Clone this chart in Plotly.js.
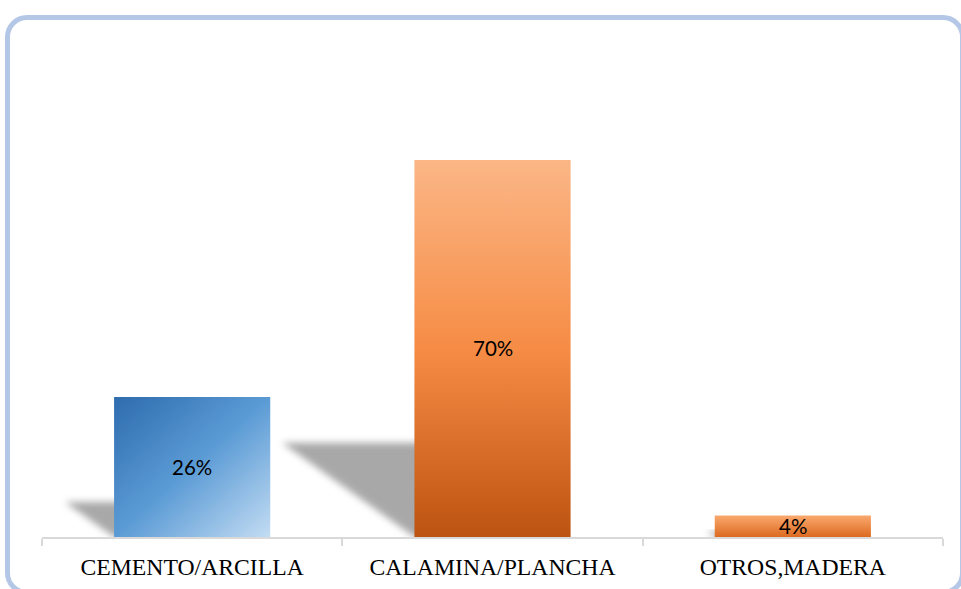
<!DOCTYPE html>
<html>
<head>
<meta charset="utf-8">
<script src="https://cdn.plot.ly/plotly-3.0.1.min.js"></script>
<style>
  html, body { margin: 0; padding: 0; background: #ffffff; overflow: hidden; }
  #wrap { position: relative; width: 961px; height: 589px; overflow: hidden; }
  #chart { position: absolute; left: 0; top: 0; width: 961px; height: 589px; }
  #frame { position: absolute; left: 5px; top: 15px; width: 960px; height: 580px;
           border: 5px solid #b4c7e7; border-radius: 22px; box-sizing: border-box;
           pointer-events: none; }
</style>
</head>
<body>
<div id="wrap">
  <div id="chart"></div>
  <div id="frame"></div>
</div>
<script>
// ---- data ----
const categories = ["CEMENTO/ARCILLA", "CALAMINA/PLANCHA", "OTROS,MADERA"];
const values = [26, 70, 4];
const valueLabels = ["26%", "70%", "4%"];

// ---- style ----
const barWidth = 0.52;
const baseColors = ["#5b9bd5", "#f4894a", "#f08a45"];

// shadows derived from the data values
const shapes = values.map((v, i) => {
  const xl = i - barWidth / 2;
  const w = v * 0.0063;
  const h = v * 0.25;
  return {
    type: "path", xref: "x", yref: "y", layer: "below",
    path: `M ${xl - w} ${h} L ${xl + 0.05} ${h} L ${xl + 0.05} 0 L ${xl} 0 Z`,
    fillcolor: "#9a9a9a", line: { width: 0 }, opacity: 0.85
  };
});

const annotations = values.map((v, i) => ({
  x: categories[i], y: v / 2, xref: "x", yref: "y",
  text: valueLabels[i], showarrow: false,
  font: { family: "Lato, 'Open Sans', sans-serif", size: 20.5, color: "#000000" }
}));

const trace = {
  type: "bar",
  x: categories,
  y: values,
  width: barWidth,
  marker: { color: baseColors, line: { width: 0 } },
  hoverinfo: "skip"
};

const layout = {
  width: 961, height: 589,
  margin: { l: 42, r: 18, t: 106, b: 52 },
  paper_bgcolor: "rgba(0,0,0,0)",
  plot_bgcolor: "rgba(0,0,0,0)",
  showlegend: false,
  xaxis: {
    type: "category",
    showgrid: false,
    showline: true, linecolor: "#d9d9d9", linewidth: 2,
    ticks: "outside", tickson: "boundaries", ticklen: 7, tickcolor: "#d9d9d9", tickwidth: 2,
    ticklabelstandoff: 8,
    tickfont: { family: "'Liberation Serif', 'Times New Roman', serif", size: 23.7, color: "#000000" },
    fixedrange: true
  },
  yaxis: {
    range: [0, 80],
    visible: false,
    showgrid: false, zeroline: false,
    fixedrange: true
  },
  shapes: shapes,
  annotations: annotations
};

const gd = document.getElementById("chart");
Plotly.newPlot(gd, [trace], layout, { displayModeBar: false, staticPlot: true }).then(() => {
  const NS = "http://www.w3.org/2000/svg";
  const svg = gd.querySelector("svg.main-svg");
  let defs = svg.querySelector("defs");
  if (!defs) { defs = document.createElementNS(NS, "defs"); svg.insertBefore(defs, svg.firstChild); }

  function grad(id, x1, y1, x2, y2, stops) {
    const g = document.createElementNS(NS, "linearGradient");
    g.setAttribute("id", id);
    g.setAttribute("x1", x1); g.setAttribute("y1", y1);
    g.setAttribute("x2", x2); g.setAttribute("y2", y2);
    stops.forEach(([o, c]) => {
      const s = document.createElementNS(NS, "stop");
      s.setAttribute("offset", o); s.setAttribute("stop-color", c);
      g.appendChild(s);
    });
    defs.appendChild(g);
  }
  grad("gBlue", "0", "0", "1", "1", [["0", "#2e6cae"], ["0.5", "#5b9bd5"], ["1", "#c3dcf3"]]);
  grad("gOrange", "0", "0", "0", "1", [["0", "#fbb686"], ["0.5", "#f68c45"], ["1", "#bd5310"]]);
  grad("gOrange2", "0", "0", "0", "1", [["0", "#faa96f"], ["1", "#dc6a20"]]);

  const f = document.createElementNS(NS, "filter");
  f.setAttribute("id", "shBlur");
  f.setAttribute("x", "-30%"); f.setAttribute("y", "-30%");
  f.setAttribute("width", "160%"); f.setAttribute("height", "160%");
  const b = document.createElementNS(NS, "feGaussianBlur");
  b.setAttribute("stdDeviation", "3.5");
  f.appendChild(b);
  defs.appendChild(f);

  const fills = ["url(#gBlue)", "url(#gOrange)", "url(#gOrange2)"];
  gd.querySelectorAll(".barlayer .point path").forEach((p, i) => {
    p.style.fill = fills[i];
  });
  gd.querySelectorAll(".shapelayer path").forEach(p => {
    p.setAttribute("filter", "url(#shBlur)");
  });
});
</script>
</body>
</html>
